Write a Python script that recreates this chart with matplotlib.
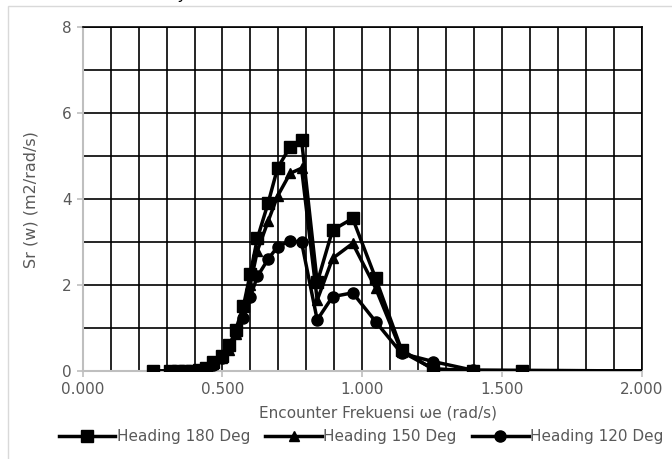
import matplotlib
matplotlib.use("Agg")
import matplotlib.pyplot as plt
from matplotlib.patches import Rectangle
from matplotlib.ticker import MultipleLocator, FormatStrFormatter

# encounter frequency (shared by all headings)
omega_e = [0.25, 0.313, 0.34, 0.365, 0.39, 0.415, 0.44, 0.466, 0.497, 0.525,
           0.547, 0.575, 0.599, 0.625, 0.663, 0.697, 0.742, 0.783, 0.839,
           0.894, 0.966, 1.048, 1.141, 1.254, 1.395, 1.572, 2.25]

sr_180 = [0, 0, 0, 0.005, 0.01, 0.03, 0.08, 0.2, 0.35, 0.6,
          0.95, 1.51, 2.25, 3.09, 3.90, 4.72, 5.22, 5.38, 2.06,
          3.28, 3.55, 2.16, 0.49, 0.04, 0.01, 0.01, 0]
sr_150 = [0, 0, 0, 0.005, 0.01, 0.02, 0.06, 0.16, 0.3, 0.5,
          0.85, 1.35, 2.0, 2.8, 3.48, 4.07, 4.6, 4.72, 1.65,
          2.62, 2.97, 1.93, 0.45, 0.05, 0.01, 0.01, 0]
sr_120 = [0, 0, 0, 0.005, 0.01, 0.02, 0.06, 0.15, 0.3, 0.55,
          0.88, 1.23, 1.72, 2.2, 2.6, 2.89, 3.03, 3.0, 1.19,
          1.73, 1.82, 1.15, 0.41, 0.22, 0.02, 0.01, 0]

labels = ["Heading 180 Deg", "Heading 150 Deg", "Heading 120 Deg"]

plt.rcParams['font.family'] = ['DejaVu Sans']
txt_col = '#595959'

fig = plt.figure(figsize=(6.72, 4.59), dpi=100)
W, H = 672, 459

# chart area border (cut off by the image at right and bottom)
fig.patches.append(Rectangle((7.5 / W, -0.1), 1.2, 1 - 5.5 / H + 0.1,
                             transform=fig.transFigure, fill=False,
                             edgecolor='#d9d9d9', linewidth=1.0))
# descender of a letter from the page above
fig.text(183 / W, 1 + 1 / H, 'y', style='italic', fontsize=11, va='baseline', ha='center')

ax = fig.add_axes([82.7 / W, 1 - 371 / H, (641.7 - 82.7) / W, (371 - 27.3) / H])

ax.plot(omega_e, sr_180, color='black', lw=2.5, marker='s', ms=8.5, label=labels[0], zorder=3)
ax.plot(omega_e, sr_150, color='black', lw=2.5, marker='^', ms=7, label=labels[1], zorder=4)
ax.plot(omega_e, sr_120, color='black', lw=2.5, marker='o', ms=8, label=labels[2], zorder=5)

ax.set_xlim(0, 2.0)
ax.set_ylim(0, 8)
ax.xaxis.set_major_locator(MultipleLocator(0.5))
ax.xaxis.set_minor_locator(MultipleLocator(0.1))
ax.yaxis.set_major_locator(MultipleLocator(2))
ax.yaxis.set_minor_locator(MultipleLocator(1))
ax.xaxis.set_major_formatter(FormatStrFormatter('%.3f'))

ax.grid(which='both', color='black', linewidth=1.2, zorder=1)
ax.set_axisbelow(True)

for s in ['left', 'bottom']:
    ax.spines[s].set_color('#bfbfbf')
    ax.spines[s].set_linewidth(1.5)
for s in ['top', 'right']:
    ax.spines[s].set_color('black')
    ax.spines[s].set_linewidth(1.2)

ax.tick_params(which='major', length=4, width=1.2, color='#bfbfbf',
               labelsize=11, labelcolor=txt_col, pad=4)
ax.tick_params(which='minor', length=0)

ax.set_ylabel('Sr (w) (m2/rad/s)', fontsize=11.5, color=txt_col, labelpad=17)
fig.text(378 / W, 1 - 413 / H, 'Encounter Frekuensi ωe (rad/s)', fontsize=11,
         color=txt_col, ha='center', va='center')

leg = ax.legend(loc='center', bbox_to_anchor=(361 / W, 1 - 437 / H),
                bbox_transform=fig.transFigure, ncol=3, frameon=False,
                fontsize=11, handlelength=3.7, handletextpad=0.1,
                columnspacing=1.0, borderaxespad=0)
for t in leg.get_texts():
    t.set_color(txt_col)

fig.savefig('out.png', dpi=100)
